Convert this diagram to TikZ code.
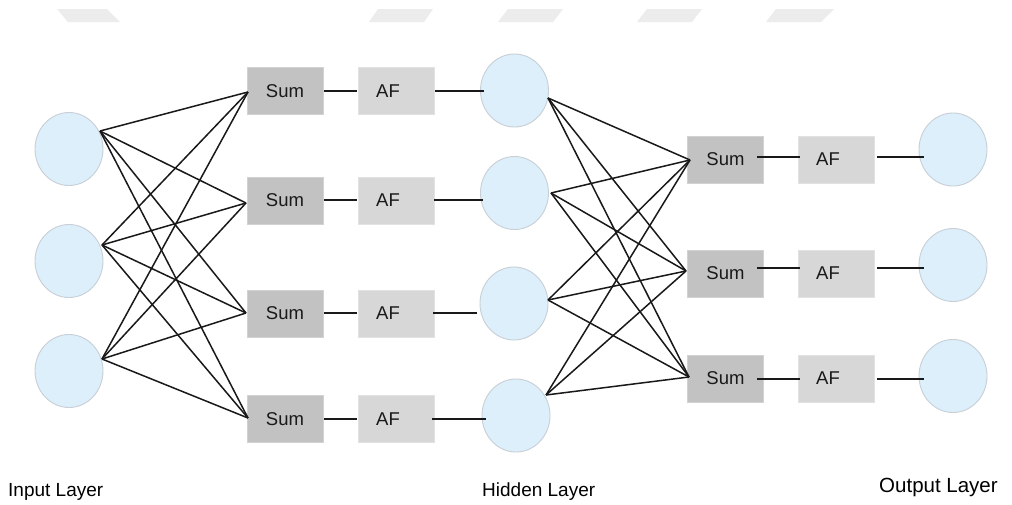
\documentclass[tikz,border=0pt]{standalone}
\usepackage{fontspec}
\setmainfont{Liberation Sans}
\usetikzlibrary{shapes.geometric}
\definecolor{circfill}{HTML}{DCEFFB}
\definecolor{circdraw}{HTML}{C8CFD6}
\definecolor{sumfill}{HTML}{C2C2C2}
\definecolor{sumdraw}{HTML}{D2D2D2}
\definecolor{affill}{HTML}{D7D7D7}
\definecolor{afdraw}{HTML}{E2E2E2}
\definecolor{marks}{HTML}{ECECEC}
\tikzset{
  neuron/.style={ellipse, fill=circfill, draw=circdraw, line width=0.9pt, minimum width=68pt, minimum height=73pt, inner sep=0pt},
  sumbox/.style={rectangle, fill=sumfill, draw=sumdraw, line width=0.8pt, minimum width=76pt, minimum height=47pt, inner sep=0pt, font=\fontsize{18.5}{21}\selectfont, text=black!90},
  afbox/.style={rectangle, fill=affill, draw=afdraw, line width=0.8pt, minimum width=76pt, minimum height=47pt, inner sep=0pt},
  aflabel/.style={label={[xshift=-8pt, font=\fontsize{18.5}{21}\selectfont, text=black!90]center:AF}},
  wire/.style={draw=black!90, line width=1.5pt},
  layerlabel/.style={font=\fontsize{19}{22}\selectfont, inner sep=0pt, anchor=base west}
}
\begin{document}
\begin{tikzpicture}[x=1pt, y=-1pt]
\useasboundingbox (0,0) rectangle (1012,504);
\fill[white] (0,0) rectangle (1012,504);
% faint marks at the top
\fill[marks] (57,9) -- (107,9) -- (120,22) -- (68,22) -- cycle;
\fill[marks] (378,9) -- (433,9) -- (424,22) -- (369,22) -- cycle;
\fill[marks] (508,9) -- (563,9) -- (553,22) -- (498,22) -- cycle;
\fill[marks] (647,9) -- (702,9) -- (692,22) -- (637,22) -- cycle;
\fill[marks] (776,9) -- (834,9) -- (821,22) -- (766,22) -- cycle;

% input layer
\node[neuron] (i1) at (69,149) {};
\node[neuron] (i2) at (69,261) {};
\node[neuron] (i3) at (69,371) {};
% left sums
\node[sumbox] (s1) at (285,91) {Sum};
\node[sumbox] (s2) at (285,200.5) {Sum};
\node[sumbox] (s3) at (285,313.5) {Sum};
\node[sumbox] (s4) at (285,419) {Sum};
% left AF
\node[afbox, aflabel] (a1) at (396,91) {};
\node[afbox, aflabel] (a2) at (396,200.5) {};
\node[afbox, aflabel] (a3) at (396,313.5) {};
\node[afbox, aflabel] (a4) at (396,419) {};
% hidden
\node[neuron] (h1) at (514.5,90.5) {};
\node[neuron] (h2) at (514.5,193) {};
\node[neuron] (h3) at (514,303.5) {};
\node[neuron] (h4) at (516,415.5) {};
% right sums
\node[sumbox] (t1) at (725.5,159.5) {Sum};
\node[sumbox] (t2) at (725.5,273.5) {Sum};
\node[sumbox] (t3) at (725.5,378.5) {Sum};
% right AF
\node[afbox, aflabel] (b1) at (836,159.5) {};
\node[afbox, aflabel] (b2) at (836,273.5) {};
\node[afbox, aflabel] (b3) at (836,378.5) {};
% outputs
\node[neuron] (o1) at (953,149.5) {};
\node[neuron] (o2) at (953,265) {};
\node[neuron] (o3) at (953,376) {};

% connection points
\coordinate (ip1) at (100,131);
\coordinate (ip2) at (102,245);
\coordinate (ip3) at (102,359);
\coordinate (sp1) at (248,92);
\coordinate (sp2) at (246,203);
\coordinate (sp3) at (246,313);
\coordinate (sp4) at (248,418);
\coordinate (hp1) at (548,98);
\coordinate (hp2) at (551,193);
\coordinate (hp3) at (548,300);
\coordinate (hp4) at (546,395);
\coordinate (tp1) at (690,160);
\coordinate (tp2) at (686,271);
\coordinate (tp3) at (689,377);

% row ports, left
\coordinate (s1e) at (324,91);  \coordinate (a1w) at (357,91);
\coordinate (s2e) at (324,200); \coordinate (a2w) at (357,200);
\coordinate (s3e) at (324,313); \coordinate (a3w) at (357,313);
\coordinate (s4e) at (324,419); \coordinate (a4w) at (357,419);
\coordinate (a1e) at (435,91);  \coordinate (h1w) at (484,91);
\coordinate (a2e) at (434,200); \coordinate (h2w) at (483,200);
\coordinate (a3e) at (433,313); \coordinate (h3w) at (477,313);
\coordinate (a4e) at (432,419); \coordinate (h4w) at (486,419);
% row ports, right
\coordinate (t1e) at (757,157); \coordinate (b1w) at (800,157);
\coordinate (t2e) at (757,268); \coordinate (b2w) at (800,268);
\coordinate (t3e) at (757,379); \coordinate (b3w) at (800,379);
\coordinate (b1e) at (877,157); \coordinate (o1w) at (924,157);
\coordinate (b2e) at (877,268); \coordinate (o2w) at (924,268);
\coordinate (b3e) at (877,379); \coordinate (o3w) at (924,379);

% input -> sum
\foreach \i in {1,2,3}{
  \foreach \s in {1,2,3,4}{
    \draw[wire] (ip\i) -- (sp\s);
  }
}
% hidden -> right sum
\foreach \h in {1,2,3,4}{
  \foreach \t in {1,2,3}{
    \draw[wire] (hp\h) -- (tp\t);
  }
}
% rows
\foreach \r in {1,2,3,4}{
  \draw[wire] (s\r e) -- (a\r w);
  \draw[wire] (a\r e) -- (h\r w);
}
\foreach \r in {1,2,3}{
  \draw[wire] (t\r e) -- (b\r w);
  \draw[wire] (b\r e) -- (o\r w);
}

% layer labels
\node[layerlabel] (lin) at (8,496) {Input Layer};
\node[layerlabel] (lhid) at (482,496) {Hidden Layer};
\node[layerlabel, font=\fontsize{20.5}{24}\selectfont] (lout) at (879,492) {Output Layer};
\end{tikzpicture}
\end{document}
